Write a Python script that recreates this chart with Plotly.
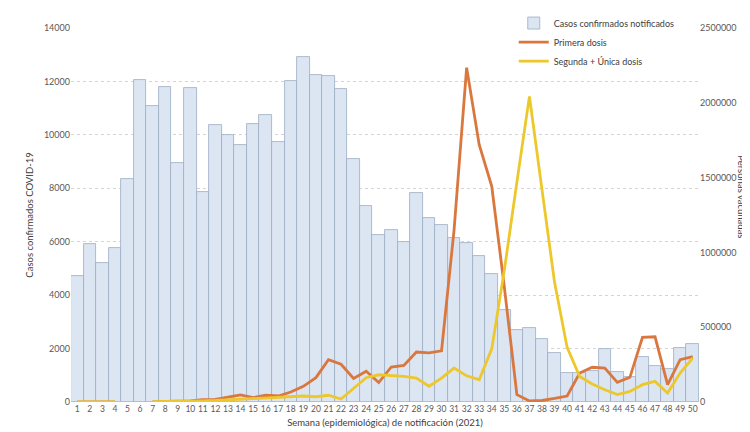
import plotly.graph_objects as go

weeks = list(range(1, 51))

casos = [4730, 5920, 5210, 5750, 8360, 12040, 11080, 11810, 8950, 11760,
         7860, 10360, 10000, 9620, 10390, 10760, 9750, 12030, 12920, 12250,
         12210, 11720, 9080, 7330, 6250, 6430, 6000, 7810, 6890, 6630,
         6140, 5960, 5470, 4780, 3460, 2680, 2760, 2350, 1820, 1080,
         1100, 1150, 1990, 1140, 920, 1670, 1340, 1240, 2020, 2190]

primera = [0, 0, 0, 0, None, None, 2000, 3000, 5000, 8000,
           15000, 18000, 33000, 48000, 29000, 45000, 40000, 67000, 105000, 163000,
           283000, 252000, 157000, 205000, 130000, 234000, 245000, 334000, 328000, 342000,
           1150000, 2235000, 1720000, 1442000, 770000, 49000, 7000, 10000, 24000, 40000,
           194000, 232000, 227000, 131000, 165000, 432000, 436000, 116000, 283000, 303000]

segunda = [0, 0, 0, 0, None, None, 3000, 3000, 4000, 5000,
           8000, 10000, 15000, 20000, 22000, 30000, 30000, 38000, 40000, 35000,
           45000, 20000, 94000, 162000, 182000, 178000, 172000, 160000, 105000, 160000,
           227000, 175000, 149000, 355000, 880000, 1470000, 2043000, 1420000, 800000, 365000,
           170000, 120000, 82000, 50000, 71000, 116000, 138000, 60000, 194000, 294000]

FONT = "Lato"
TXT = "#595959"

fig = go.Figure()
fig.add_trace(go.Bar(
    x=weeks, y=casos, name="Casos confirmados notificados",
    marker=dict(color="#dce6f2", line=dict(color="#9aabc3", width=0.8)),
    yaxis="y"))
fig.add_trace(go.Scatter(
    x=weeks, y=primera, name="Primera dosis", mode="lines",
    line=dict(color="#d9773f", width=2.8), connectgaps=False, yaxis="y2"))
fig.add_trace(go.Scatter(
    x=weeks, y=segunda, name="Segunda + Única dosis", mode="lines",
    line=dict(color="#ecc82c", width=2.8), connectgaps=False, yaxis="y2"))

fig.update_layout(
    width=750, height=432,
    margin=dict(l=63, r=59, t=20, b=38, autoexpand=False),
    paper_bgcolor="white", plot_bgcolor="white",
    font=dict(family=FONT, size=9, color=TXT),
    bargap=0,
    showlegend=True,
    legend=dict(x=0.705, y=1.052, xanchor="left", yanchor="top",
                font=dict(size=9, color="#404040"), bgcolor="rgba(0,0,0,0)",
                tracegroupgap=0, itemwidth=30),
    xaxis=dict(range=[0.5, 50.5], tickmode="linear", dtick=1, tick0=1,
               showgrid=False, zeroline=False, showline=False, ticks="",
               tickfont=dict(size=8.5, color=TXT),
               title=dict(text="Semana (epidemiológica) de notificación (2021)",
                          font=dict(size=9.5, color="#404040"), standoff=6)),
    yaxis=dict(range=[0, 14000], dtick=2000, tickformat="d",
               showgrid=True, gridcolor="#d4d4d4", griddash="dot", gridwidth=1,
               zeroline=False, showline=False, ticks="",
               tickfont=dict(size=9, color=TXT),
               title=dict(text="Casos confirmados COVID-19",
                          font=dict(size=9.5, color="#404040"), standoff=8)),
    yaxis2=dict(range=[0, 2500000], dtick=500000, tickformat="d",
                overlaying="y", side="right", showgrid=False, zeroline=False,
                showline=False, ticks="", tickfont=dict(size=9, color=TXT)),
    annotations=[dict(text="Personas vacunadas", textangle=90,
                      x=0.985, xanchor="left", y=0.55, yanchor="middle",
                      xref="paper", yref="paper", showarrow=False,
                      xshift=45,
                      font=dict(size=9.5, color="#404040"))],
)

fig.write_html("out.html")
